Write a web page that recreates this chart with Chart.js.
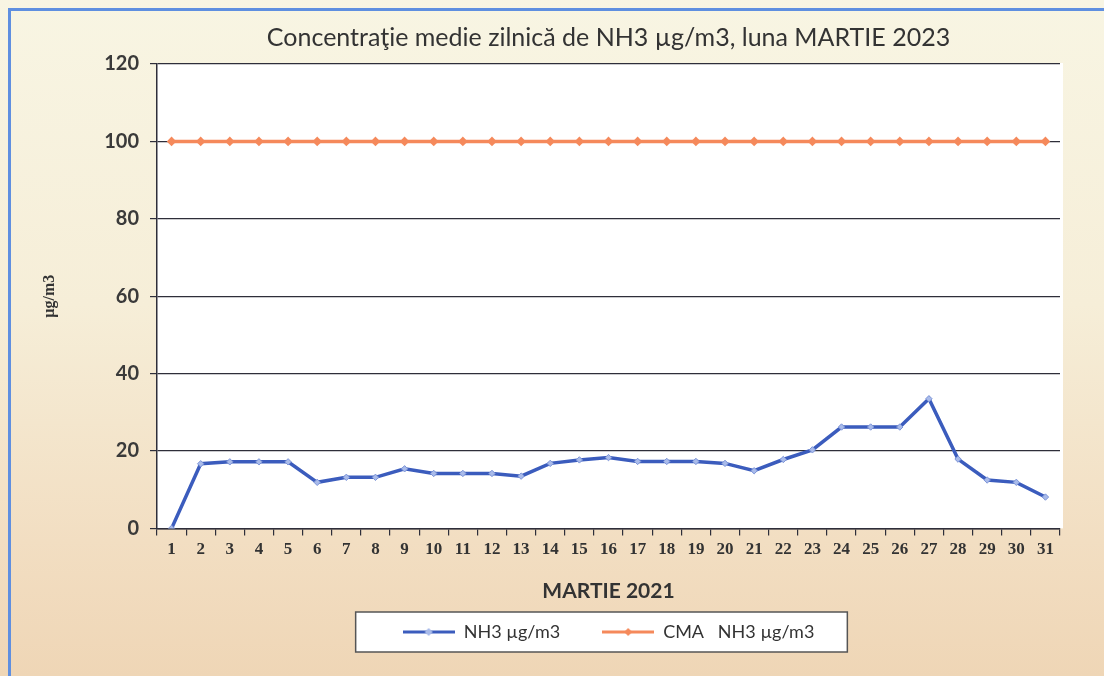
<!DOCTYPE html>
<html>
<head>
<meta charset="utf-8">
<script src="https://cdn.jsdelivr.net/npm/chart.js@4.4.0/dist/chart.umd.min.js"></script>
<style>
  html, body { margin: 0; padding: 0; }
  body {
    width: 1104px; height: 676px; overflow: hidden; position: relative;
    background: linear-gradient(180deg, #f8f5e3 0%, #f6eed8 45%, #f2dec2 80%, #efd6b6 100%);
  }
  #frame {
    position: absolute; left: 8px; top: 8px; right: -10px; bottom: -10px;
    border-left: 3px solid #5f8fe0; border-top: 3px solid #5f8fe0;
  }
  #wrap { position: absolute; left: 0; top: 0; width: 1104px; height: 676px; }
</style>
</head>
<body>
<div id="frame"></div>
<div id="wrap"><canvas id="nh3Chart" width="1104" height="676"></canvas></div>

<script>
    // zilele lunii
    const days = ['1','2','3','4','5','6','7','8','9','10','11','12','13','14','15','16',
                  '17','18','19','20','21','22','23','24','25','26','27','28','29','30','31'];

    // NH3 µg/m3 - medii zilnice
    const nh3Values = [0, 16.7, 17.2, 17.2, 17.2, 11.9, 13.2, 13.2, 15.4, 14.2, 14.2, 14.2, 13.5, 16.8, 17.7, 18.3,
                       17.3, 17.3, 17.3, 16.8, 14.9, 17.8, 20.3, 26.2, 26.2, 26.2, 33.5, 17.9, 12.5, 11.9, 8.1];

    // CMA NH3 µg/m3
    const cmaValues = [100, 100, 100, 100, 100, 100, 100, 100, 100, 100, 100, 100, 100, 100, 100, 100,
                       100, 100, 100, 100, 100, 100, 100, 100, 100, 100, 100, 100, 100, 100, 100];

    const yTicks = [0, 20, 40, 60, 80, 100, 120];

    const blue = '#3b5cbd';
    const orange = '#f5895b';
    const axisColor = '#2e2e3a';

    // mic desen pentru legenda: linie + romb
    function legendImage(color, fillColor) {
        const c = document.createElement('canvas');
        c.width = 52; c.height = 12;
        const g = c.getContext('2d');
        g.strokeStyle = color;
        g.lineWidth = 3;
        g.beginPath(); g.moveTo(0, 6); g.lineTo(52, 6); g.stroke();
        g.fillStyle = fillColor;
        g.beginPath(); g.moveTo(26, 2); g.lineTo(30, 6); g.lineTo(26, 10); g.lineTo(22, 6); g.closePath(); g.fill();
        return c;
    }

    // fundal alb pentru zona graficului
    const plotBackground = {
        id: 'plotBackground',
        beforeDraw(chart) {
            const {ctx, chartArea} = chart;
            ctx.save();
            ctx.fillStyle = '#ffffff';
            ctx.fillRect(chartArea.left, chartArea.top - 1, chartArea.right - chartArea.left + 3, chartArea.bottom - chartArea.top + 1);
            ctx.restore();
        }
    };

    // chenar in jurul legendei
    const legendBox = {
        id: 'legendBox',
        beforeDraw(chart) {
            const boxes = chart.legend.legendHitBoxes;
            if (!boxes || !boxes.length) return;
            const left = Math.min(...boxes.map(b => b.left)) - 47;
            const right = Math.max(...boxes.map(b => b.left + b.width)) + 33;
            const top = boxes[0].top - 11;
            const bottom = boxes[0].top + boxes[0].height + 11;
            const ctx = chart.ctx;
            ctx.save();
            ctx.fillStyle = '#ffffff';
            ctx.fillRect(left, top, right - left, bottom - top);
            ctx.strokeStyle = '#555';
            ctx.lineWidth = 1.5;
            ctx.strokeRect(left, top, right - left, bottom - top);
            ctx.restore();
        }
    };

    const ctx = document.getElementById('nh3Chart').getContext('2d');
    const nh3Chart = new Chart(ctx, {
        type: 'line',
        data: {
            labels: days,
            datasets: [{
                label: 'NH3 µg/m3',
                data: nh3Values,
                borderColor: blue,
                backgroundColor: '#9db0e6',
                borderWidth: 3.5,
                pointStyle: 'rectRot',
                pointRadius: 3.2,
                pointBorderWidth: 1,
                pointBorderColor: '#7d95d8',
                pointBackgroundColor: '#a9bbea',
                tension: 0,
                fill: false
            }, {
                label: 'CMA   NH3 µg/m3',
                data: cmaValues,
                borderColor: orange,
                backgroundColor: orange,
                borderWidth: 3.5,
                pointStyle: 'rectRot',
                pointRadius: 4.8,
                pointBorderWidth: 0,
                pointBackgroundColor: orange,
                tension: 0,
                fill: false
            }]
        },
        options: {
            responsive: false,
            animation: false,
            layout: {
                padding: { top: 23, left: 40, right: 44, bottom: 25 }
            },
            plugins: {
                title: {
                    display: true,
                    fullSize: false,
                    text: 'Concentraţie medie zilnică de NH3 µg/m3, luna MARTIE 2023',
                    color: '#333',
                    font: { family: 'Lato', size: 25, weight: 'normal' },
                    padding: { top: 0, bottom: 11 }
                },
                legend: {
                    position: 'bottom',
                    fullSize: false,
                    labels: {
                        usePointStyle: true,
                        pointStyleWidth: 52,
                        padding: 42,
                        color: '#333',
                        font: { family: 'Lato', size: 18 },
                        generateLabels(chart) {
                            return chart.data.datasets.map((ds, i) => ({
                                text: ds.label,
                                pointStyle: i === 0 ? legendImage(blue, '#a9bbea') : legendImage(orange, orange),
                                fillStyle: ds.borderColor,
                                strokeStyle: ds.borderColor,
                                lineWidth: 0,
                                fontColor: '#333',
                                datasetIndex: i
                            }));
                        }
                    }
                },
                tooltip: { enabled: false }
            },
            scales: {
                x: {
                    offset: true,
                    grid: {
                        display: true,
                        drawOnChartArea: false,
                        offset: true,
                        color: axisColor,
                        lineWidth: 1.2,
                        tickLength: 7
                    },
                    border: { color: axisColor, width: 1.5 },
                    ticks: {
                        color: '#333',
                        maxRotation: 0,
                        autoSkip: false,
                        padding: 4,
                        font: { family: 'Liberation Serif', size: 17, weight: 'bold' }
                    },
                    title: {
                        display: true,
                        text: 'MARTIE 2021',
                        color: '#333',
                        font: { family: 'Lato', size: 21, weight: 'bold' },
                        padding: { top: 15, bottom: -23 }
                    }
                },
                y: {
                    min: 0,
                    max: 120,
                    afterBuildTicks(axis) {
                        axis.ticks = yTicks.map(v => ({ value: v }));
                    },
                    grid: {
                        color: axisColor,
                        lineWidth: 1.2,
                        tickLength: 7
                    },
                    border: { color: axisColor, width: 1.5 },
                    ticks: {
                        color: '#3a3a3a',
                        padding: 11,
                        font: { family: 'Lato', size: 20, weight: 'bold' }
                    },
                    title: {
                        display: true,
                        text: 'µg/m3',
                        color: '#333',
                        font: { family: 'Liberation Serif', size: 16, weight: 'bold' },
                        padding: { top: 0, bottom: 34 }
                    }
                }
            }
        },
        plugins: [plotBackground, legendBox]
    });
</script>
</body>
</html>
